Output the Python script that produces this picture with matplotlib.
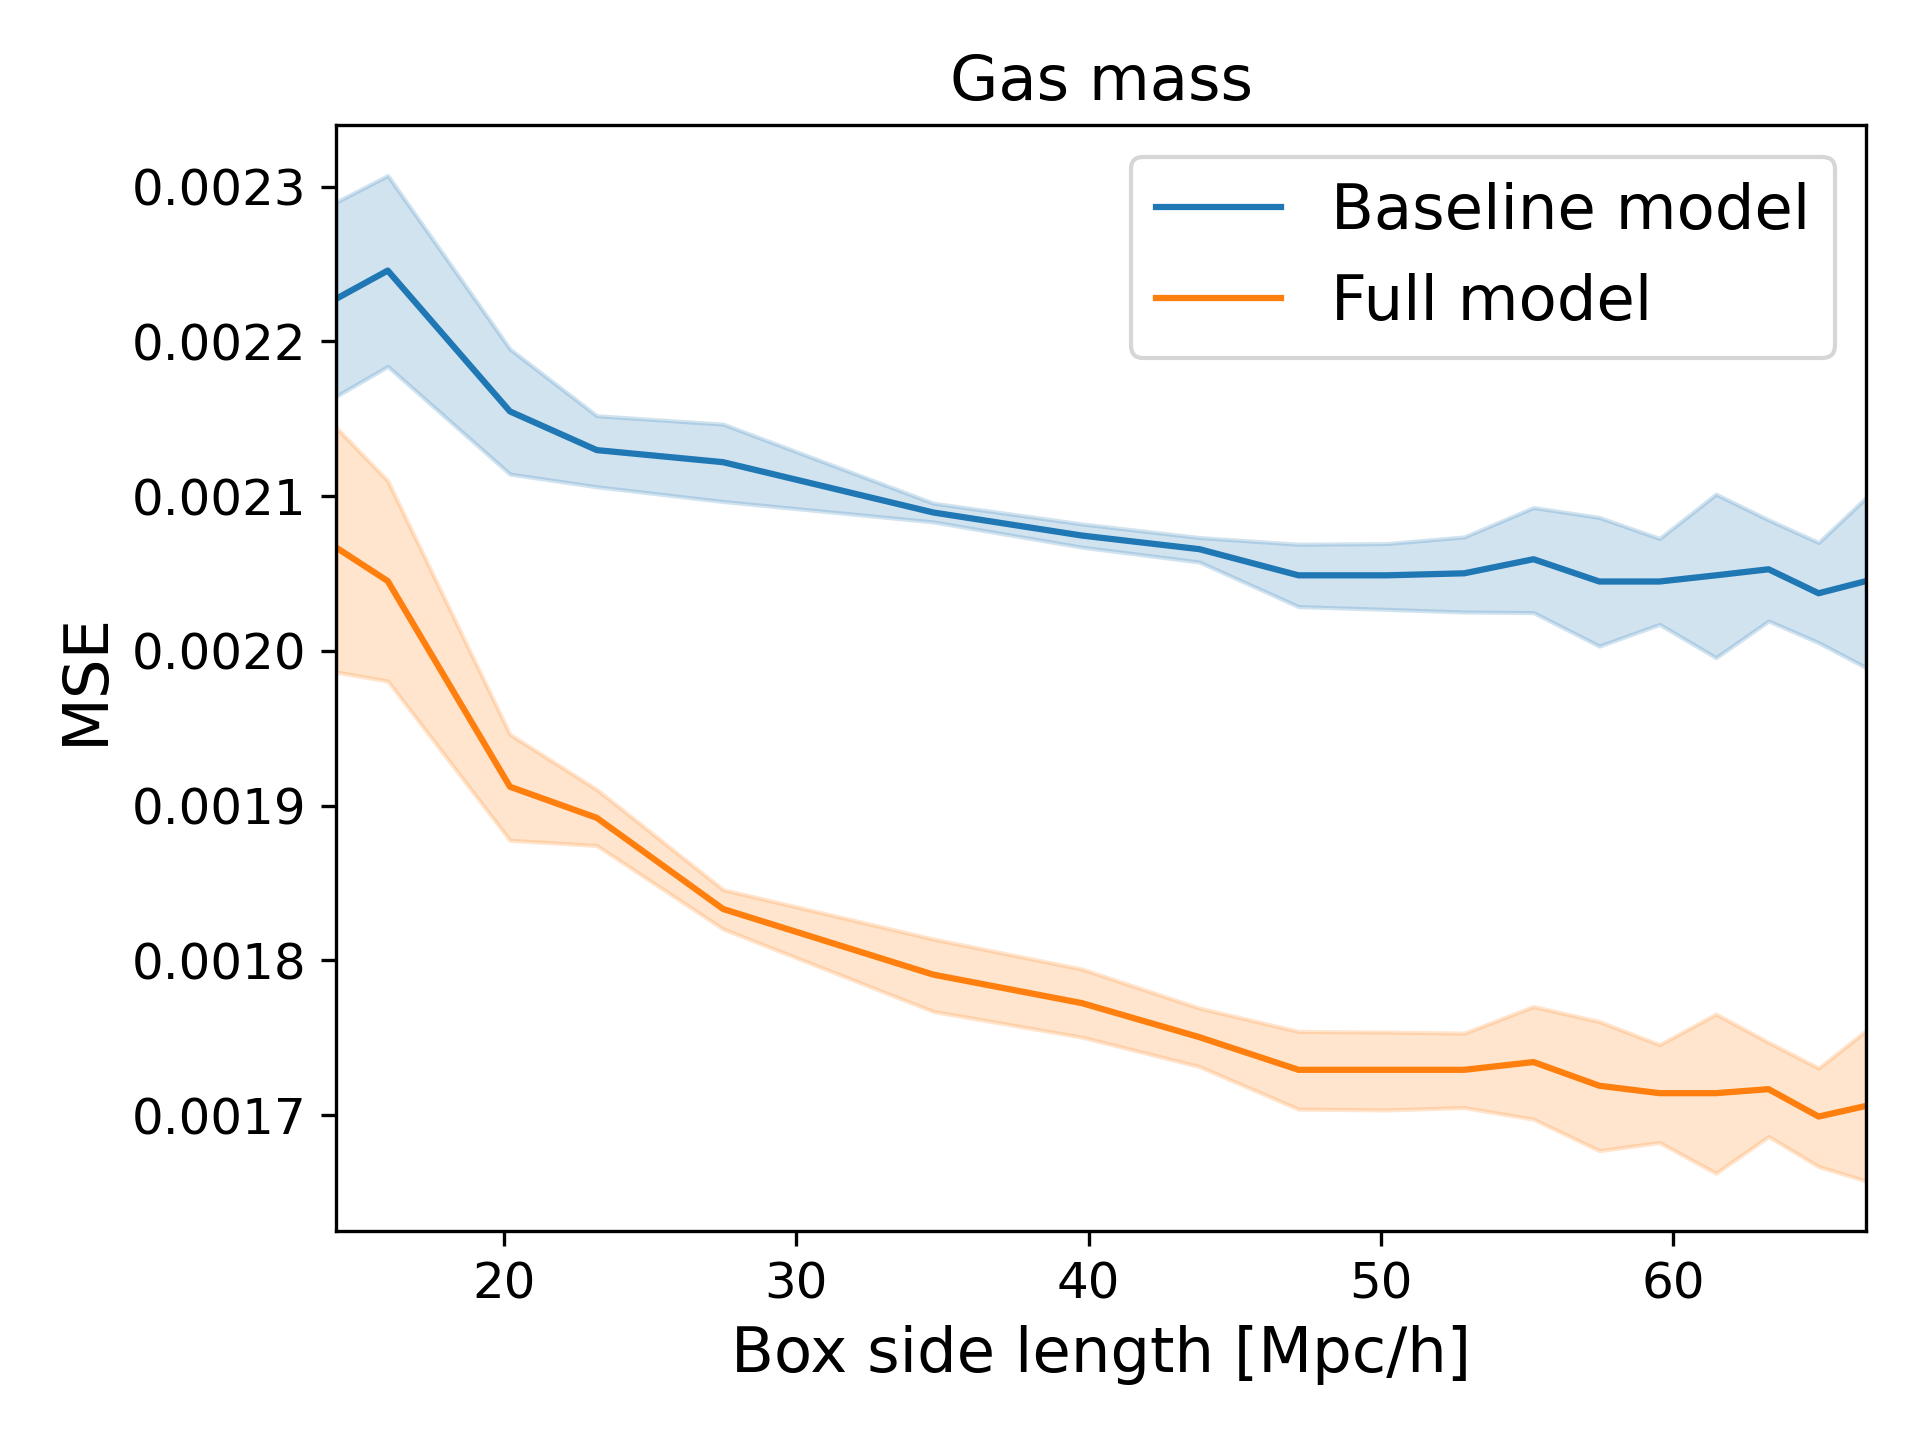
import numpy as np
import matplotlib
matplotlib.use("Agg")
import matplotlib.pyplot as plt

# Box side lengths [Mpc/h]
box_len = [14.26, 16.03, 20.21, 23.18, 27.5, 34.69, 39.77, 43.79, 47.18, 50.2,
           52.85, 55.22, 57.47, 59.53, 61.46, 63.26, 64.97, 66.6]

# MSE values (units of 1e-4)
base_mean = [22.274, 22.457, 21.547, 21.297, 21.219, 20.894, 20.745, 20.657, 20.488, 20.488,
             20.501, 20.592, 20.448, 20.448, 20.488, 20.527, 20.372, 20.451]
base_hi = [22.899, 23.071, 21.950, 21.519, 21.465, 20.954, 20.820, 20.732, 20.689, 20.693,
           20.736, 20.926, 20.862, 20.726, 21.012, 20.846, 20.700, 20.991]
base_lo = [21.644, 21.838, 21.142, 21.060, 20.965, 20.833, 20.670, 20.574, 20.286, 20.268,
           20.251, 20.247, 20.031, 20.171, 19.956, 20.193, 20.053, 19.891]

full_mean = [20.668, 20.451, 19.122, 18.921, 18.332, 17.908, 17.724, 17.504, 17.293, 17.293,
             17.293, 17.343, 17.190, 17.142, 17.142, 17.168, 16.991, 17.060]
full_hi = [21.444, 21.098, 19.460, 19.104, 18.457, 18.138, 17.944, 17.692, 17.541, 17.537,
           17.530, 17.702, 17.605, 17.455, 17.653, 17.470, 17.304, 17.547]
full_lo = [19.863, 19.805, 18.776, 18.742, 18.203, 17.670, 17.504, 17.314, 17.039, 17.034,
           17.049, 16.974, 16.771, 16.823, 16.625, 16.862, 16.668, 16.575]

x = np.array(box_len)
sc = 1e-4

fig, ax = plt.subplots(figsize=(6.4, 4.8), dpi=300)
fig.subplots_adjust(left=0.175, right=0.972, top=0.913, bottom=0.145)

ax.plot(x, np.array(base_mean) * sc, color="C0", label="Baseline model")
ax.fill_between(x, np.array(base_lo) * sc, np.array(base_hi) * sc, color="C0", alpha=0.2)
ax.plot(x, np.array(full_mean) * sc, color="C1", label="Full model")
ax.fill_between(x, np.array(full_lo) * sc, np.array(full_hi) * sc, color="C1", alpha=0.2)

ax.set_xlim(x.min(), x.max())
ax.set_title("Gas mass", fontsize=15)
ax.set_xlabel("Box side length [Mpc/h]", fontsize=15)
ax.set_ylabel("MSE", fontsize=15)
ax.tick_params(labelsize=12)
ax.legend(fontsize=15, loc="upper right")

fig.savefig("out.png", dpi=300)
